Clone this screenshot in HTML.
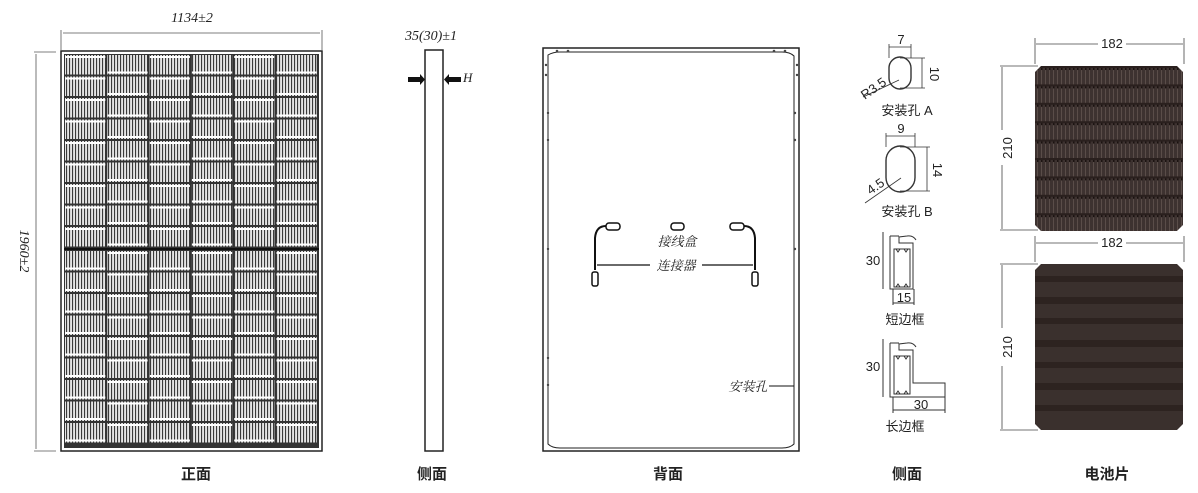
<!DOCTYPE html>
<html><head><meta charset="utf-8"><style>
html,body{margin:0;padding:0;background:#fff;width:1198px;height:493px;overflow:hidden}
svg{display:block}
text{font-family:"Liberation Sans","Noto Sans CJK SC",sans-serif;fill:#222}
.it{font-family:"Liberation Serif","Noto Serif CJK SC",serif;font-style:italic}
</style></head><body>
<svg width="1198" height="493" viewBox="0 0 1198 493" xmlns="http://www.w3.org/2000/svg">
<defs>
<pattern id="vl" width="3" height="10" patternUnits="userSpaceOnUse"><rect width="3" height="10" fill="#e4e4e4"/><rect width="1.1" height="10" fill="#3a3a3a"/></pattern>
<pattern id="cellp" width="4" height="18.4" patternUnits="userSpaceOnUse" y="66">
<rect width="4" height="18.4" fill="#3d3230"/><rect x="1" width="1" height="18.4" fill="#5a4d49"/><rect y="0" width="4" height="2" fill="#2a201e"/><rect x="1" y="2" width="1.5" height="2" fill="#1a1210"/>
</pattern>
</defs>

<!-- front panel -->
<line x1="61" y1="30" x2="61" y2="50" stroke="#555" stroke-width="0.8"/>
<line x1="322" y1="30" x2="322" y2="50" stroke="#555" stroke-width="0.8"/>
<line x1="63" y1="33" x2="320" y2="33" stroke="#555" stroke-width="0.8"/>
<text x="192" y="22" class="it" font-size="14" text-anchor="middle">1134±2</text>
<line x1="34" y1="52" x2="56" y2="52" stroke="#555" stroke-width="0.8"/>
<line x1="34" y1="451" x2="56" y2="451" stroke="#555" stroke-width="0.8"/>
<line x1="36" y1="54" x2="36" y2="449" stroke="#555" stroke-width="0.8"/>
<text x="0" y="0" class="it" font-size="14" text-anchor="middle" transform="translate(20,251) rotate(90)">1960±2</text>
<rect x="61" y="51" width="261" height="400" fill="#fff" stroke="#222" stroke-width="1.5"/>
<rect x="64" y="54" width="255" height="394" fill="#333"/>
<g id="cells">
</g>
<line x1="64" y1="249" x2="319" y2="249" stroke="#111" stroke-width="2"/>

<!-- side -->
<text x="431" y="40" class="it" font-size="14" text-anchor="middle">35(30)±1</text>
<rect x="425" y="50" width="18" height="401" fill="#fff" stroke="#222" stroke-width="1.5"/>
<rect x="408" y="77" width="12" height="5" fill="#111"/><polygon points="420,74 425,79.5 420,85" fill="#111"/>
<rect x="449" y="77" width="12" height="5" fill="#111"/><polygon points="449,74 444,79.5 449,85" fill="#111"/>
<text x="463" y="82" class="it" font-size="13">H</text>

<!-- back -->
<rect x="543" y="48" width="256" height="403" fill="#fff" stroke="#222" stroke-width="1.5"/>
<path d="M548,55 Q553,52 560,52 L782,52 Q790,52 794,56 L794,444 Q790,448 782,448 L560,448 Q552,448 548,444 Z" fill="none" stroke="#222" stroke-width="1"/>
<g fill="#444"><circle cx="557" cy="51" r="1.3"/><circle cx="568" cy="51" r="1.3"/><circle cx="774" cy="51" r="1.3"/><circle cx="785" cy="51" r="1.3"/>
<circle cx="546" cy="65" r="1.2"/><circle cx="546" cy="75" r="1.2"/><circle cx="797" cy="65" r="1.2"/><circle cx="797" cy="75" r="1.2"/>
<circle cx="548" cy="113" r="1.2"/><circle cx="548" cy="140" r="1.2"/><circle cx="795" cy="113" r="1.2"/><circle cx="795" cy="140" r="1.2"/>
<circle cx="548" cy="249" r="1.2"/><circle cx="795" cy="249" r="1.2"/><circle cx="548" cy="385" r="1.2"/><circle cx="548" cy="358" r="1.2"/></g>
<rect x="606" y="223" width="14" height="7" rx="3" fill="#fff" stroke="#111" stroke-width="1.5"/>
<rect x="671" y="223" width="13" height="7" rx="3" fill="#fff" stroke="#111" stroke-width="1.5"/>
<rect x="730" y="223" width="14" height="7" rx="3" fill="#fff" stroke="#111" stroke-width="1.5"/>
<path d="M606,226 Q596,226 595,238 L595,270" fill="none" stroke="#111" stroke-width="2"/>
<path d="M744,226 Q754,226 755,238 L755,270" fill="none" stroke="#111" stroke-width="2"/>
<rect x="592" y="272" width="6" height="14" rx="2" fill="#fff" stroke="#111" stroke-width="1.5"/>
<rect x="752" y="272" width="6" height="14" rx="2" fill="#fff" stroke="#111" stroke-width="1.5"/>
<text x="677" y="246" class="it" font-size="13" text-anchor="middle">接线盒</text>
<line x1="597" y1="265" x2="650" y2="265" stroke="#111" stroke-width="1.2"/>
<line x1="702" y1="265" x2="753" y2="265" stroke="#111" stroke-width="1.2"/>
<text x="676" y="270" class="it" font-size="13" text-anchor="middle">连接器</text>
<text x="748" y="391" class="it" font-size="13" text-anchor="middle">安装孔</text>
<line x1="769" y1="386" x2="794" y2="386" stroke="#111" stroke-width="1"/>

<!-- holes -->
<g stroke="#333" stroke-width="0.8" fill="none">
<line x1="889" y1="44" x2="889" y2="58"/><line x1="911" y1="44" x2="911" y2="58"/><line x1="889" y1="47" x2="911" y2="47"/>
<rect x="889" y="57" width="22" height="32" rx="11" stroke-width="1.4"/>
<line x1="900" y1="58" x2="925" y2="58"/><line x1="900" y1="88" x2="925" y2="88"/><line x1="922" y1="58" x2="922" y2="88"/>
<line x1="863" y1="97" x2="899" y2="80"/>
<line x1="886" y1="133" x2="886" y2="147"/><line x1="915" y1="133" x2="915" y2="147"/><line x1="886" y1="136" x2="915" y2="136"/>
<rect x="886" y="146" width="29" height="46" rx="14.5" stroke-width="1.4"/>
<line x1="900" y1="147" x2="930" y2="147"/><line x1="900" y1="191" x2="930" y2="191"/><line x1="927" y1="147" x2="927" y2="191"/>
<line x1="865" y1="203" x2="901" y2="178"/>
</g>
<text x="901" y="44" font-size="13" text-anchor="middle">7</text>
<text x="0" y="0" font-size="13" text-anchor="middle" transform="translate(930,74) rotate(90)">10</text>
<text x="0" y="0" font-size="13" text-anchor="middle" transform="translate(876,92) rotate(-35)">R3.5</text>
<text x="907" y="115" font-size="13" text-anchor="middle">安装孔 A</text>
<text x="901" y="133" font-size="13" text-anchor="middle">9</text>
<text x="0" y="0" font-size="13" text-anchor="middle" transform="translate(933,170) rotate(90)">14</text>
<text x="0" y="0" font-size="13" text-anchor="middle" transform="translate(878,190) rotate(-35)">4.5</text>
<text x="907" y="216" font-size="13" text-anchor="middle">安装孔 B</text>

<!-- frames -->
<g stroke="#333" stroke-width="1" fill="none">
<!-- short -->
<line x1="883" y1="232" x2="883" y2="289"/>
<path d="M890,236 L890,289 L913,289 L913,243 L899,243 L899,237 L907,236 Q913,235 916,240"/>
<line x1="890" y1="236" x2="899" y2="236"/>
<rect x="894" y="249" width="16" height="38"/>
<path d="M896,249 l2,3 l2,-3 M904,249 l2,3 l2,-3 M896,287 l2,-3 l2,3 M904,287 l2,-3 l2,3"/>
<line x1="893" y1="289" x2="893" y2="305"/><line x1="914" y1="289" x2="914" y2="305"/><line x1="893" y1="303" x2="914" y2="303"/>
<!-- long -->
<line x1="883" y1="339" x2="883" y2="397"/>
<path d="M890,343 L890,397 L945,397 L945,383 L913,383 L913,350 L899,350 L899,344 L907,343 Q913,342 916,347"/>
<line x1="890" y1="343" x2="899" y2="343"/>
<rect x="894" y="356" width="16" height="38"/>
<path d="M896,356 l2,3 l2,-3 M904,356 l2,3 l2,-3 M896,394 l2,-3 l2,3 M904,394 l2,-3 l2,3"/>
<line x1="893" y1="397" x2="893" y2="413"/><line x1="945" y1="397" x2="945" y2="413"/><line x1="893" y1="410" x2="945" y2="410"/>
</g>
<text x="873" y="265" font-size="13" text-anchor="middle">30</text>
<text x="904" y="302" font-size="13" text-anchor="middle">15</text>
<text x="905" y="324" font-size="13" text-anchor="middle">短边框</text>
<text x="873" y="371" font-size="13" text-anchor="middle">30</text>
<text x="921" y="409" font-size="13" text-anchor="middle">30</text>
<text x="905" y="431" font-size="13" text-anchor="middle">长边框</text>

<!-- battery cells -->
<g stroke="#444" stroke-width="0.8">
<line x1="1035" y1="38" x2="1035" y2="64"/><line x1="1184" y1="38" x2="1184" y2="64"/>
<line x1="1036" y1="44" x2="1098" y2="44"/><line x1="1126" y1="44" x2="1183" y2="44"/>
<line x1="1000" y1="66" x2="1038" y2="66"/><line x1="1000" y1="230" x2="1038" y2="230"/>
<line x1="1002" y1="67" x2="1002" y2="130"/><line x1="1002" y1="165" x2="1002" y2="229"/>
<line x1="1035" y1="236" x2="1035" y2="262"/><line x1="1184" y1="236" x2="1184" y2="262"/>
<line x1="1036" y1="243" x2="1098" y2="243"/><line x1="1126" y1="243" x2="1183" y2="243"/>
<line x1="1000" y1="264" x2="1038" y2="264"/><line x1="1000" y1="430" x2="1038" y2="430"/>
<line x1="1002" y1="265" x2="1002" y2="328"/><line x1="1002" y1="366" x2="1002" y2="429"/>
</g>
<text x="1112" y="48" font-size="13" text-anchor="middle">182</text>
<text x="1112" y="247" font-size="13" text-anchor="middle">182</text>
<text x="0" y="0" font-size="13" text-anchor="middle" transform="translate(1012,148) rotate(-90)">210</text>
<text x="0" y="0" font-size="13" text-anchor="middle" transform="translate(1012,347) rotate(-90)">210</text>
<path d="M1041,66 L1177,66 L1183,72 L1183,225 L1177,231 L1041,231 L1035,225 L1035,72 Z" fill="url(#cellp)"/>
<path d="M1041,264 L1177,264 L1183,270 L1183,424 L1177,430 L1041,430 L1035,424 L1035,270 Z" fill="#3a302d"/>
<g fill="#2a201d" opacity="0.8">
<rect x="1035" y="276" width="148" height="6"/><rect x="1035" y="297" width="148" height="7"/><rect x="1035" y="318" width="148" height="6"/><rect x="1035" y="340" width="148" height="7"/><rect x="1035" y="362" width="148" height="6"/><rect x="1035" y="383" width="148" height="7"/><rect x="1035" y="405" width="148" height="6"/>
</g>

<!-- titles -->
<g font-size="15" font-weight="bold" text-anchor="middle">
<text x="196" y="479">正面</text>
<text x="432" y="479">侧面</text>
<text x="668" y="479">背面</text>
<text x="907" y="479">侧面</text>
<text x="1107" y="479">电池片</text>
</g>
</svg>
<script>
(function(){
var g=document.getElementById('cells'),s='';
var x0=65,cw=42.3;
for(var h=0;h<2;h++){
 var yb=h?251:55, rh=21.5;
 for(var r=0;r<9;r++)for(var c=0;c<6;c++){
  var x=x0+c*cw, y=yb+r*rh, w=cw-2, hh=rh-2;
  s+='<rect x="'+x+'" y="'+y+'" width="'+w+'" height="'+hh+'" fill="url(#vl)"/>';
  var top=(c%2==0)!=(h==1);
  s+='<rect x="'+x+'" y="'+(top?y+1:y+hh-3)+'" width="'+w+'" height="2" fill="#fff"/>';
 }
}
g.innerHTML=s;
})();
</script>
</body></html>
